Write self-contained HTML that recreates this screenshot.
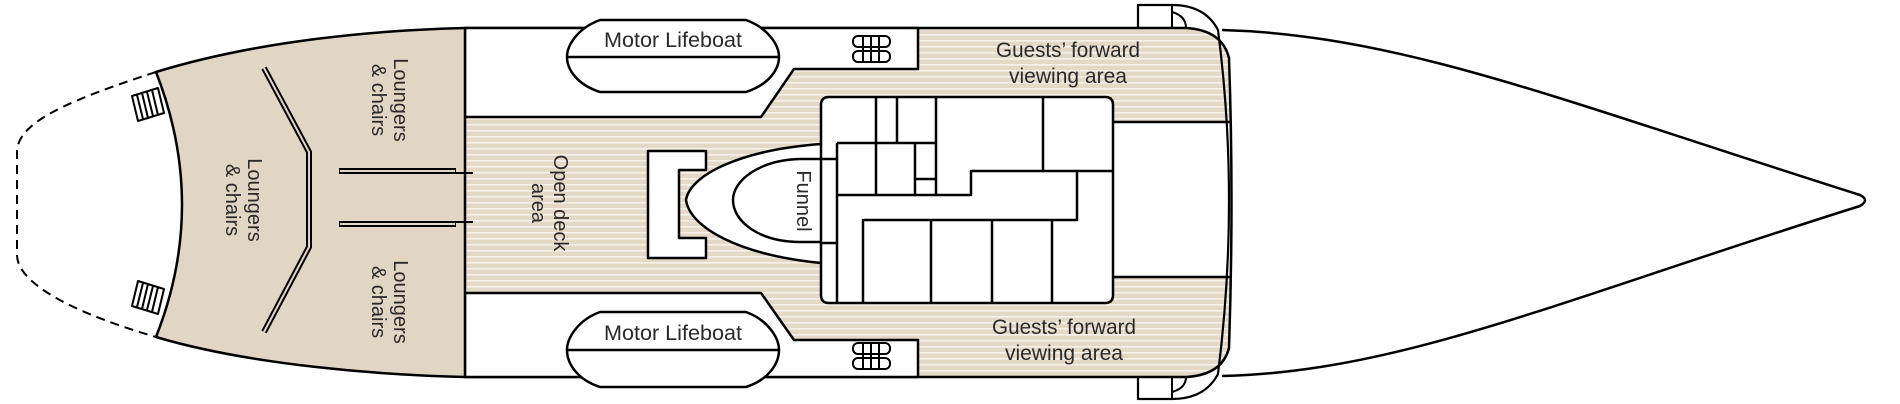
<!DOCTYPE html>
<html><head><meta charset="utf-8"><style>
html,body{margin:0;padding:0;background:#fff;width:1900px;height:404px;overflow:hidden}
svg{display:block}
text{font-family:"Liberation Sans",sans-serif;fill:#2a2a2a}
.c{font-family:"Liberation Sans Narrow","Liberation Sans",sans-serif;font-size:21px}
.r{font-size:20px}
</style></head><body>
<svg width="1900" height="404" viewBox="0 0 1900 404" xmlns="http://www.w3.org/2000/svg">
<defs>
<pattern id="st" width="10" height="6" patternUnits="userSpaceOnUse">
<rect width="10" height="6" fill="#e4d8c6"/><rect y="4" width="10" height="1.6" fill="#f6f1ea"/>
</pattern>
</defs>
<g stroke="#000" stroke-width="2.5" fill="none" stroke-linejoin="round">
<!-- hull bow -->
<path d="M1222,30 C1400,35 1560,100 1860,195 Q1870,200 1860,206 C1560,300 1400,372 1222,376" fill="#fff"/>
<!-- deck striped area -->
<path d="M465,28 L1186,28 Q1222,30 1229,58 L1231,200 L1229,348 Q1222,375 1186,377 L465,377 Z" fill="url(#st)" stroke="none"/>
<rect x="1113" y="122" width="118" height="155" fill="#fff" stroke="none"/>
<!-- top deck line -->
<path d="M465,28 L1186,28 Q1222,30 1229,58 Q1234,200 1229,348 Q1222,375 1186,377 L465,377"/>
<!-- white zones -->
<path d="M465,28 L918,28 L918,69 L794,69 L761,117 L465,117 Z" fill="#fff"/>
<path d="M465,377 L918,377 L918,340 L794,340 L761,293 L465,293 Z" fill="#fff"/>
<!-- stern tan -->
<path d="M156,72 C260,40 380,30 465,28 L465,377 C380,375 250,365 156,337 Q208,205 156,72 Z" fill="#e1d5c4"/>
<!-- dashed -->
<path d="M156,72 C70,100 17,122 17,152 L17,255 C17,285 80,315 156,337" stroke-dasharray="9,6" stroke-width="2"/>
<!-- inner walls -->
<path d="M264,68 L309,152 L309,247 L264,332" stroke-width="6"/>
<path d="M264,68 L309,152 L309,247 L264,332" stroke="#e1d5c4" stroke-width="2"/>
<path d="M339,171 L456,171 M339,224 L456,224" stroke-width="6"/>
<path d="M340,171 L455,171 M340,224 L455,224" stroke="#e1d5c4" stroke-width="2"/>
<path d="M456,173 L473,173 M456,222 L473,222" stroke-width="2"/>
<!-- stern steps -->
<g stroke-width="2">
<path d="M132,96 L158,88 L164,113 L138,121 Z" fill="#fff"/>
<path d="M137,95 L143,119 M142,93 L148,118 M147,92 L153,116 M152,90 L158,115"/>
<path d="M132,306 L158,314 L164,289 L138,281 Z" fill="#fff"/>
<path d="M137,307 L143,283 M142,309 L148,284 M147,310 L153,286 M152,312 L158,287"/>
</g>
<!-- lifeboats -->
<path d="M600,20 L746,20 C768,28 779,45 779,57 C779,70 768,85 746,92 L600,92 C578,85 567,70 567,57 C567,45 578,28 600,20 Z" fill="#fff"/>
<path d="M567,57 L779,57"/>
<path d="M600,312 L746,312 C768,320 779,338 779,350 C779,364 768,380 746,387 L600,387 C578,380 567,364 567,350 C567,338 578,320 600,312 Z" fill="#fff"/>
<path d="M567,350 L779,350"/>
<!-- bollards -->
<g stroke-width="2" fill="#fff">
<rect x="853" y="36" width="37" height="11" rx="5"/><rect x="853" y="51" width="37" height="11" rx="5"/>
<rect x="853" y="343" width="37" height="11" rx="5"/><rect x="853" y="358" width="37" height="11" rx="5"/>
<path d="M863,36 v26 M871,36 v26 M879,36 v26 M863,343 v26 M871,343 v26 M879,343 v26" fill="none"/>
</g>
<!-- bracket -->
<path d="M648,151 L706,151 L706,170 L679,170 L679,238 L706,238 L706,258 L648,258 Z" fill="#fff"/>
<!-- funnel -->
<path d="M821,144 C740,150 690,175 686,200 C690,228 740,255 821,263" fill="#fff"/>
<path d="M821,159 L800,159 C760,160 733,180 733,200 C733,222 760,242 800,242 L821,242" fill="#fff"/>
<!-- superstructure -->
<path d="M821,143 L821,105 Q821,97 829,97 L1105,97 Q1113,97 1113,105 L1113,295 Q1113,303 1105,303 L829,303 Q821,303 821,295 L821,243" fill="#fff"/>
<path d="M821,143 L821,159 M821,243 L821,159" stroke-width="2.5"/>
<path d="M821,159 L837,159 M821,243 L837,243"/>
<path d="M876,97 V195 M897,97 V143 M936,97 V195 M1043,97 V171 M837,143 H936 M837,143 V303 M915,143 V195 M915,179 H936 M837,195 H971 V171 H1113 M1077,171 V220 H863 V303 M931,220 V303 M992,220 V303 M1052,220 V303"/>
<path d="M1113,122 H1230 M1113,277 H1230"/>
<!-- bulkhead & side boxes -->
<path d="M1138,28 L1138,5 L1172,5 Q1205,5 1218,30 Q1240,200 1218,374 Q1205,399 1172,399 L1138,399 L1138,377" fill="none" stroke-width="2.2"/>
<path d="M1172,5 L1172,28 M1172,377 L1172,399" stroke-width="2"/>
<path d="M1172,12 Q1186,16 1186,28 M1172,392 Q1186,388 1186,377" stroke-width="2"/>
</g>
<!-- labels -->
<text class="c" x="673" y="47" text-anchor="middle" textLength="138" lengthAdjust="spacingAndGlyphs">Motor Lifeboat</text>
<text class="c" x="673" y="340" text-anchor="middle" textLength="138" lengthAdjust="spacingAndGlyphs">Motor Lifeboat</text>
<text class="c" x="1068" y="57" text-anchor="middle" textLength="144" lengthAdjust="spacingAndGlyphs">Guests’ forward</text>
<text class="c" x="1068" y="83" text-anchor="middle" textLength="118" lengthAdjust="spacingAndGlyphs">viewing area</text>
<text class="c" x="1064" y="334" text-anchor="middle" textLength="144" lengthAdjust="spacingAndGlyphs">Guests’ forward</text>
<text class="c" x="1064" y="360" text-anchor="middle" textLength="118" lengthAdjust="spacingAndGlyphs">viewing area</text>
<text class="r" transform="translate(394,100) rotate(90)" text-anchor="middle">Loungers</text>
<text class="r" transform="translate(372,100) rotate(90)" text-anchor="middle">&amp; chairs</text>
<text class="r" transform="translate(394,302) rotate(90)" text-anchor="middle">Loungers</text>
<text class="r" transform="translate(372,302) rotate(90)" text-anchor="middle">&amp; chairs</text>
<text class="r" transform="translate(248,200) rotate(90)" text-anchor="middle">Loungers</text>
<text class="r" transform="translate(226,200) rotate(90)" text-anchor="middle">&amp; chairs</text>
<text class="r" transform="translate(554,203) rotate(90)" text-anchor="middle">Open deck</text>
<text class="r" transform="translate(532,203) rotate(90)" text-anchor="middle">area</text>
<text class="r" transform="translate(797,201) rotate(90)" text-anchor="middle">Funnel</text>
</svg>
</body></html>
